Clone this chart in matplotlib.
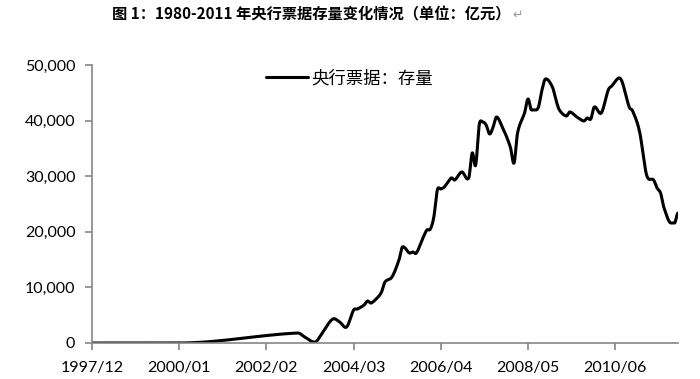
import matplotlib
matplotlib.use("Agg")
import matplotlib.pyplot as plt
import numpy as np

plt.rcParams['font.family'] = ['Noto Sans CJK SC', 'DejaVu Sans']

title_text = "图 1：1980-2011 年央行票据存量变化情况（单位：亿元）"
series_name = "央行票据：存量"

months = ["1997/12", "2000/01", "2002/11", "2003/01", "2003/04", "2003/06", "2003/09",
          "2003/11", "2004/01", "2004/03", "2004/04", "2004/06", "2004/07", "2004/08",
          "2004/10", "2004/11", "2004/12", "2005/02", "2005/04", "2005/05", "2005/07",
          "2005/08", "2005/09", "2005/11", "2005/12", "2006/01", "2006/02", "2006/03",
          "2006/04", "2006/05", "2006/07", "2006/08", "2006/10", "2006/12", "2007/01",
          "2007/02", "2007/03", "2007/04", "2007/05", "2007/06", "2007/07", "2007/08",
          "2007/10", "2007/11", "2007/12", "2008/01", "2008/02", "2008/04", "2008/05",
          "2008/06", "2008/07", "2008/08", "2008/09", "2008/10", "2008/12", "2009/01",
          "2009/02", "2009/04", "2009/05", "2009/07", "2009/09", "2009/10", "2009/11",
          "2009/12", "2010/02", "2010/04", "2010/05", "2010/07", "2010/08", "2010/10",
          "2010/11", "2011/01", "2011/03", "2011/05", "2011/06", "2011/07", "2011/08",
          "2011/10", "2011/11", "2011/12"]
stock = [0, 0, 1800, 1080, 180, 1800, 4300,
         3780, 2880, 5940, 6100, 6830, 7550, 7190,
         8270, 9170, 10970, 11870, 14930, 17270, 16190,
         16370, 16190, 19070, 20320, 20500, 22660, 27520,
         27700, 28060, 29680, 29320, 30760, 29680, 34170,
         32020, 39200, 39750, 39200, 37590, 38850, 40650,
         38310, 36870, 35070, 32380, 37770, 41370, 43890,
         41910, 41910, 42450, 45500, 47480, 46040, 43710,
         41910, 40830, 41550, 40650, 39930, 40470, 40290,
         42450, 41370, 45500, 46220, 47660, 46940, 42450,
         41730, 37950, 30220, 29320, 27880, 26980, 24280,
         21580, 21580, 23380]
tick_labels = ["1997/12", "2000/01", "2002/02", "2004/03", "2006/04", "2008/05", "2010/06"]
y_ticks = [0, 10000, 20000, 30000, 40000, 50000]


def month_index(s):
    yy, mm = s.split("/")
    return (int(yy) - 1997) * 12 + int(mm) - 12


x = np.array([month_index(s) for s in months], dtype=float)
y = np.array(stock, dtype=float)

# Smoothed line: cubic Hermite in x with cardinal (Catmull-Rom) slopes
n = len(x)
slopes = np.zeros(n)
for i in range(n):
    i0, i1 = max(i - 1, 0), min(i + 1, n - 1)
    if y[i] == y[i0] or y[i] == y[i1]:
        slopes[i] = 0.0
    else:
        slopes[i] = (y[i1] - y[i0]) / (x[i1] - x[i0])
xs, ys = [], []
for i in range(n - 1):
    h = x[i + 1] - x[i]
    t = np.linspace(0, 1, 24, endpoint=(i == n - 2))
    h00 = 2 * t ** 3 - 3 * t ** 2 + 1
    h10 = t ** 3 - 2 * t ** 2 + t
    h01 = -2 * t ** 3 + 3 * t ** 2
    h11 = t ** 3 - t ** 2
    xs.extend(x[i] + t * h)
    ys.extend(h00 * y[i] + h10 * h * slopes[i] + h01 * y[i + 1] + h11 * h * slopes[i + 1])

fig = plt.figure(figsize=(7.0, 3.79), dpi=100)
ax = fig.add_axes([92 / 700, 1 - 343 / 379, (678 - 92) / 700, (343 - 65) / 379])

ax.plot(xs, ys, color="black", lw=2.2, label=series_name, solid_capstyle="round")

ax.set_xlim(0, month_index("2011/12"))
ax.set_ylim(0, 50000)
ax.set_xticks([month_index(s) for s in tick_labels])
ax.set_xticklabels(tick_labels)
ax.set_yticks(y_ticks)
ax.set_yticklabels([f"{v:,}" for v in y_ticks])

for side in ["top", "right"]:
    ax.spines[side].set_visible(False)
for side in ["left", "bottom"]:
    ax.spines[side].set_color("#868686")
    ax.spines[side].set_linewidth(1.2)
ax.tick_params(axis="both", direction="out", length=5, width=1.2, color="#868686",
               labelsize=11.5, labelcolor="black")
ax.tick_params(axis="y", pad=7)
ax.tick_params(axis="x", pad=8)
for lab in ax.get_xticklabels() + ax.get_yticklabels():
    lab.set_fontfamily(["Lato", "DejaVu Sans"])

leg = ax.legend(loc="upper left", bbox_to_anchor=(0.285, 1.01), frameon=False,
                handlelength=2.4, handletextpad=0.2, fontsize=12.5, borderaxespad=0.0)

t = fig.text(112 / 700, 1 - 14 / 379, title_text, fontsize=11, fontweight="bold",
             va="center", ha="left", family=["Noto Sans CJK SC", "DejaVu Sans"])
fig.canvas.draw()
bb = t.get_window_extent()
fig.text((bb.x1 + 2) / 700, 1 - 15 / 379, "↵", fontsize=9, color="#999999",
         va="center", ha="left", family=["DejaVu Sans"])

fig.savefig("out.png", dpi=100)
